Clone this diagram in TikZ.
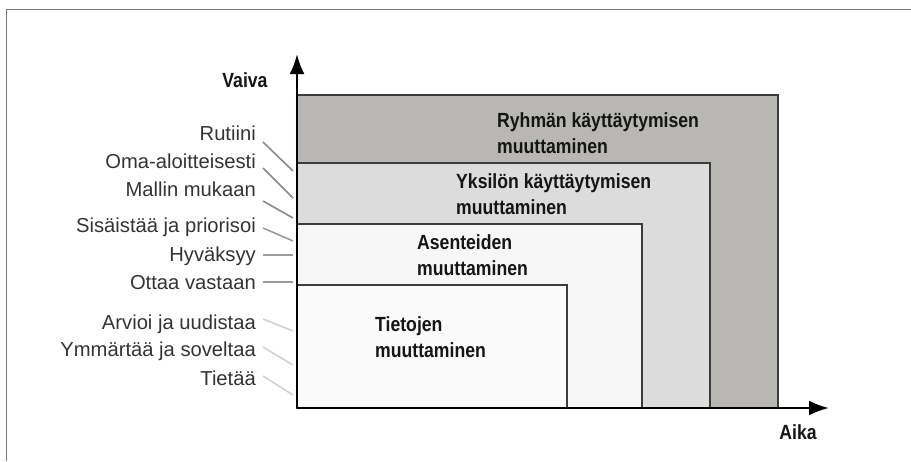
\documentclass[tikz,border=0pt]{standalone}
\usepackage{fontspec}
\setmainfont{Liberation Sans}
\newfontfamily\condfont[FakeStretch=0.86]{Liberation Sans}
\usetikzlibrary{arrows.meta}

\definecolor{framegray}{HTML}{7B7872}
\definecolor{edgegray}{HTML}{3C3C3C}
\definecolor{labelgray}{HTML}{333333}
\definecolor{textblack}{HTML}{151515}
\definecolor{fillgroup}{HTML}{B9B7B4}
\definecolor{fillperson}{HTML}{DCDCDC}
\definecolor{fillattitude}{HTML}{F7F7F7}
\definecolor{fillknowledge}{HTML}{FAFAFA}
\definecolor{leaddark}{HTML}{8A8A8A}
\definecolor{leadmid}{HTML}{9C9C9C}
\definecolor{leadlight}{HTML}{D2D2D2}

\begin{document}
\begin{tikzpicture}[x=1pt,y=-1pt,
  level/.style={font=\fontsize{20.2}{24}\selectfont, text=labelgray, anchor=base east, inner sep=0pt},
  title/.style={font=\condfont\bfseries\fontsize{20.5}{26}\selectfont, align=left, anchor=west, inner sep=0pt, text=textblack},
  axislabel/.style={font=\condfont\bfseries\fontsize{20.5}{24}\selectfont, inner sep=0pt, text=textblack},
  band/.style={draw=edgegray, line width=1.8pt},
  lead/.style={line width=1.6pt},
  axis/.style={line width=2.6pt, -{Latex[length=20pt,width=15pt]}}
]
\useasboundingbox (0,0) rectangle (911,461);

% outer frame (top and left edges)
\draw[framegray, line width=1.8pt] (6.5,461) -- (6.5,9.5) -- (911,9.5);

% nested levels of change, back to front
\path[band, fill=fillgroup]     (297,95)  rectangle (778,408);
\path[band, fill=fillperson]    (297,163) rectangle (710,408);
\path[band, fill=fillattitude]  (297,224) rectangle (642,408);
\path[band, fill=fillknowledge] (297,285) rectangle (567,408);

% axes
\coordinate (origin) at (297,408);
\coordinate (ytip) at (297,54);
\coordinate (xtip) at (829,408);
\draw[axis] (origin) -- (ytip);
\draw[axis] (origin) -- (xtip);

\node[axislabel] (vaiva) at (245,80) {Vaiva};
\node[axislabel] (aika) at (798,432) {Aika};

% titles inside the levels
\node[title] (group) at (497,133) {Ryhmän käyttäytymisen\\muuttaminen};
\node[title] (person) at (456,194.5) {Yksilön käyttäytymisen\\muuttaminen};
\node[title] (attitude) at (417,255.5) {Asenteiden\\muuttaminen};
\node[title] (knowledge) at (375,337.5) {Tietojen\\muuttaminen};

% level labels on the effort axis
\node[level] (rut) at (256,140) {Rutiini};
\node[level] (oma) at (256,168) {Oma-aloitteisesti};
\node[level] (mal) at (256,196) {Mallin mukaan};
\node[level] (sis) at (256,232) {Sisäistää ja priorisoi};
\node[level] (hyv) at (256,261) {Hyväksyy};
\node[level] (ott) at (256,289) {Ottaa vastaan};
\node[level] (arv) at (256,329) {Arvioi ja uudistaa};
\node[level] (ymm) at (256,356) {Ymmärtää ja soveltaa};
\node[level] (tie) at (256,385) {Tietää};

% leader end points on the axis
\coordinate (rutend) at (293,171);
\coordinate (omaend) at (293,198);
\coordinate (malend) at (293,218);
\coordinate (sisend) at (293,241);
\coordinate (hyvend) at (293,255);
\coordinate (ottend) at (293,282);
\coordinate (arvend) at (293,331);
\coordinate (ymmend) at (293,365);
\coordinate (tieend) at (293,395);

\draw[lead, leaddark]  ([shift={(7,2)}]rut.base east) -- (rutend);
\draw[lead, leaddark]  ([shift={(7,0)}]oma.base east) -- (omaend);
\draw[lead, leaddark]  ([shift={(7,5)}]mal.base east) -- (malend);
\draw[lead, leadmid]   ([shift={(7,-4)}]sis.base east) -- (sisend);
\draw[lead, leadmid]   ([shift={(7,-6)}]hyv.base east) -- (hyvend);
\draw[lead, leadmid]   ([shift={(7,-7)}]ott.base east) -- (ottend);
\draw[lead, leadlight] ([shift={(7,-10)}]arv.base east) -- (arvend);
\draw[lead, leadlight] ([shift={(7,-9)}]ymm.base east) -- (ymmend);
\draw[lead, leadlight] ([shift={(7,-9)}]tie.base east) -- (tieend);
\end{tikzpicture}
\end{document}
